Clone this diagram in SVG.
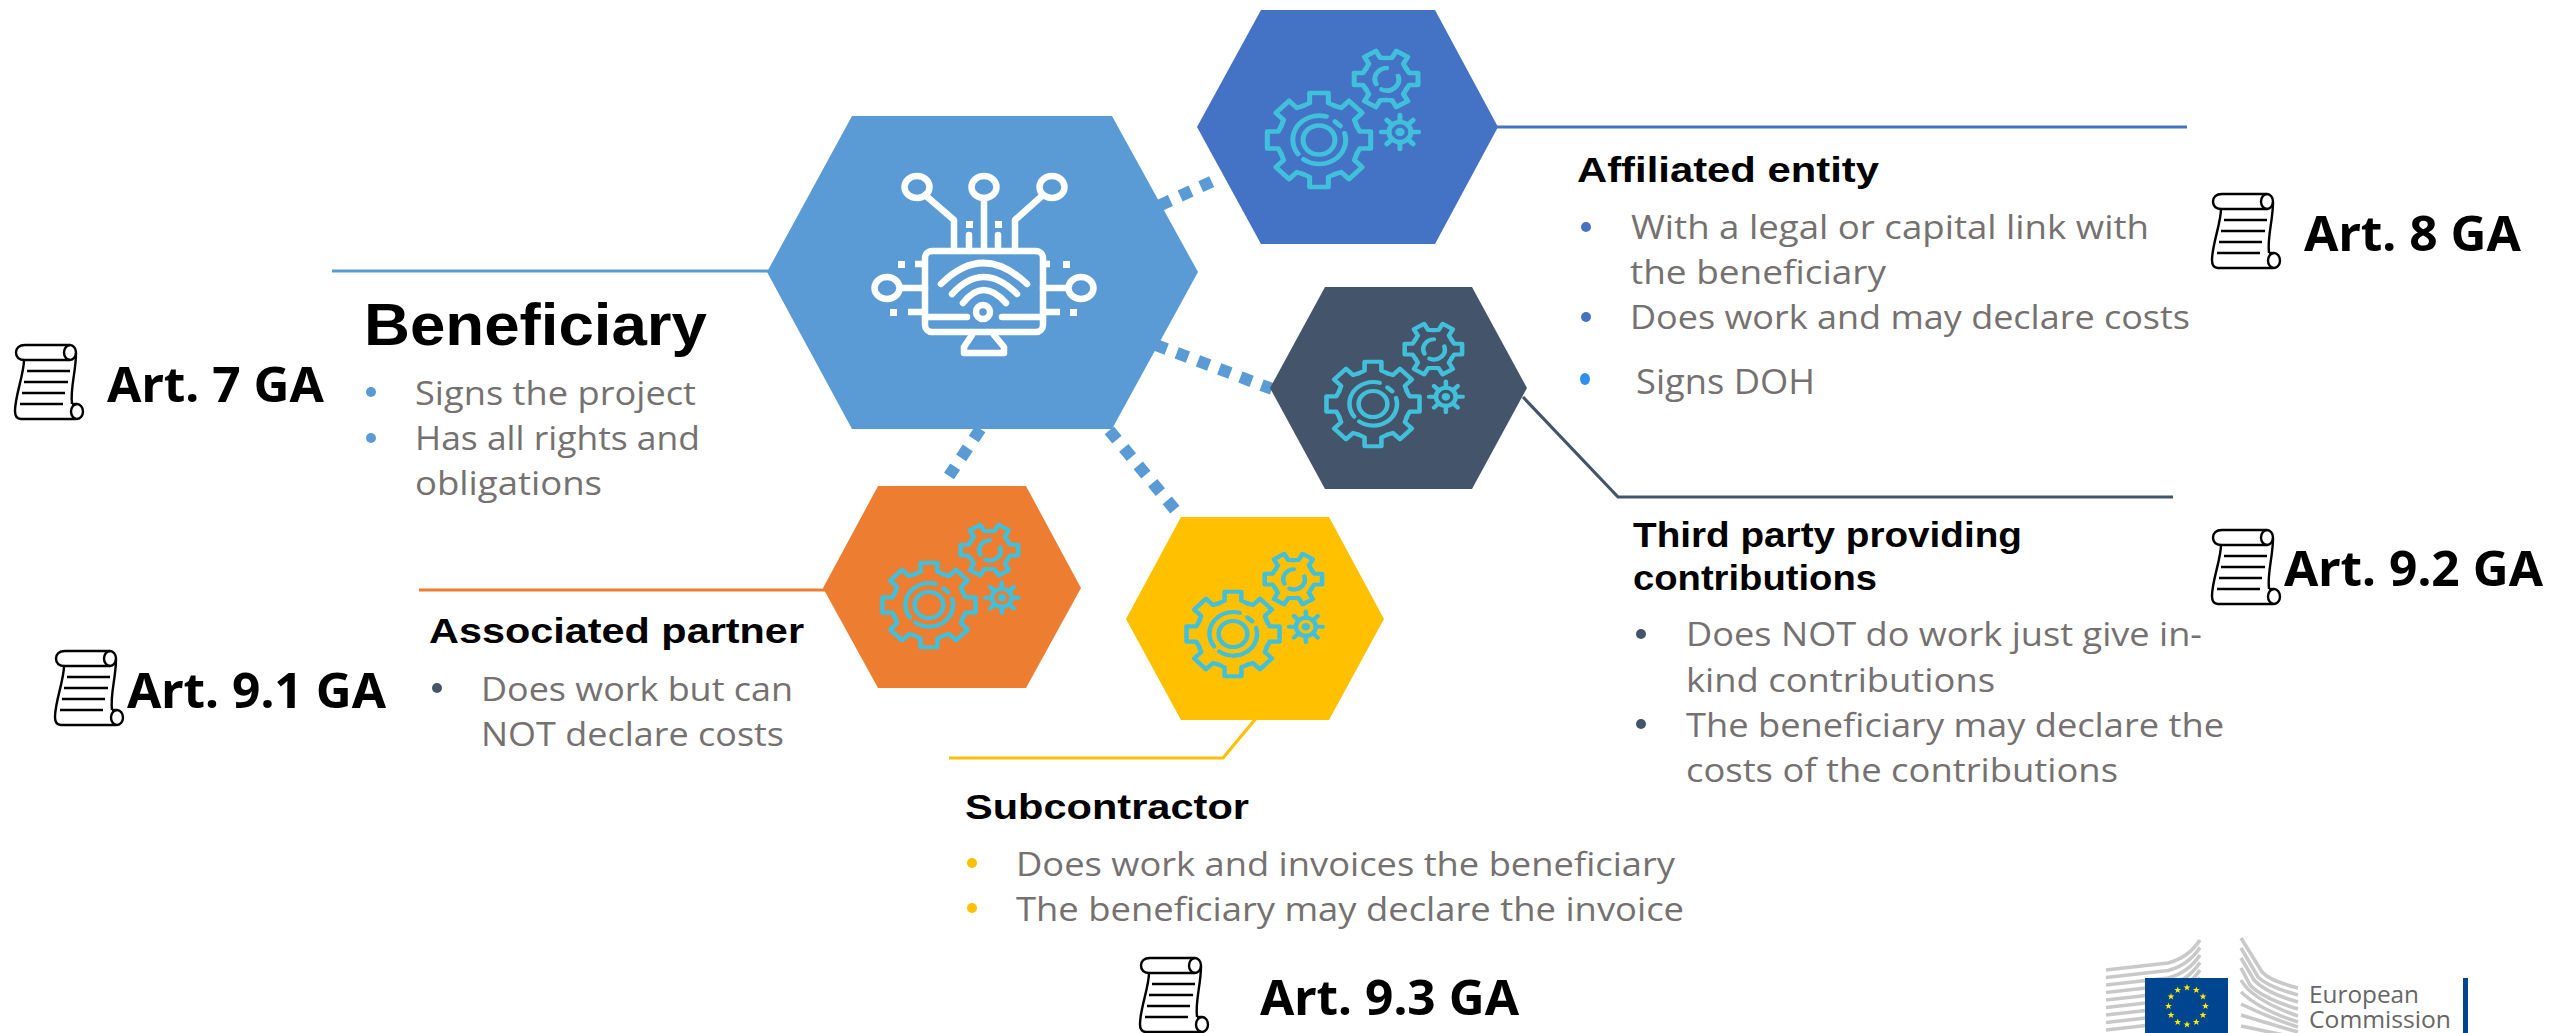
<svg xmlns="http://www.w3.org/2000/svg" xmlns:xlink="http://www.w3.org/1999/xlink" width="2552" height="1033" viewBox="0 0 2552 1033">
<style>
.body{font-family:"Open Sans","Liberation Sans",sans-serif;font-size:33px;fill:#767171}
.head{font-family:"Liberation Sans",Arial,sans-serif;font-weight:700;font-size:35px;fill:#000}
.art{font-family:"Noto Sans","Open Sans",sans-serif;font-weight:700;font-size:48px;fill:#000}
.logo{font-family:"Open Sans","Noto Sans",sans-serif;font-size:24px;fill:#666}
.dots{fill:none;stroke:#5b9bd5;stroke-width:12;stroke-dasharray:12 10.7}
.line{fill:none;stroke-width:3.2}
.gear{fill:none;stroke:#41c0dc;stroke-width:4.6;stroke-linecap:round;stroke-linejoin:round}
.ico{fill:none;stroke:#fff;stroke-width:6.500;stroke-linecap:round;stroke-linejoin:round}
.sq{fill:#fff}
.scr{fill:none;stroke:#000;stroke-width:2.4;stroke-linejoin:round}
.bld{fill:none;stroke:#c9c9c9;stroke-width:3.6}
</style>
<defs>
<symbol id="gears" overflow="visible" viewBox="-60 -100 180 160" width="180" height="160">
<g class="gear">
<path id="bt" d="M-14.2-34.2L-8.5-37V-47H8.5V-37L14.2-34.2"/>
<use xlink:href="#bt" href="#bt" transform="rotate(45)"/>
<use xlink:href="#bt" href="#bt" transform="rotate(90)"/>
<use xlink:href="#bt" href="#bt" transform="rotate(135)"/>
<use xlink:href="#bt" href="#bt" transform="rotate(180)"/>
<use xlink:href="#bt" href="#bt" transform="rotate(225)"/>
<use xlink:href="#bt" href="#bt" transform="rotate(270)"/>
<use xlink:href="#bt" href="#bt" transform="rotate(315)"/>
<circle r="14.5"/>
<path d="M6.7-23.5A24 24 0 0 0-19 14M23.3-6.7A24 24 0 0 1-14 19.3M14.5-18.5L19.5-14"/>
<g transform="translate(61 -61)">
<path id="st" d="M-10.5-18.2L-6-21V-29H6V-21L10.5-18.2" transform="rotate(30)"/>
<use xlink:href="#st" href="#st" transform="rotate(60)"/>
<use xlink:href="#st" href="#st" transform="rotate(120)"/>
<use xlink:href="#st" href="#st" transform="rotate(180)"/>
<use xlink:href="#st" href="#st" transform="rotate(240)"/>
<use xlink:href="#st" href="#st" transform="rotate(300)"/>
<path d="M0.5-11A11 11 0 0 0-9 5M11-3A11 11 0 0 1-4 10.5"/>
</g>
<g transform="translate(73.6 -8)">
<circle r="10"/><circle r="2" fill="#41c0dc"/>
<path d="M0-10V-17M7-7L12-12M10 0H17M7 7L12 12M0 10V17M-7 7L-12 12M-10 0H-17M-7-7L-12-12"/>
</g>
</g>
</symbol>
<symbol id="scroll" overflow="visible" viewBox="0 0 70 76" width="70" height="76">
<g class="scr">
<path d="M56 1H11C5 1 2 4 2 8.500S5 16 11 16H56"/>
<ellipse cx="56" cy="8.500" rx="6" ry="7.500"/>
<path d="M10 16C10 30 1 52 1 67C1 72 3 75 7 75H62"/>
<path d="M62 9C62 28 56 44 58 60"/>
<ellipse cx="63" cy="67.500" rx="6" ry="7.500"/>
<path d="M58 60H63"/>
<path d="M13 27H56M10 38H54M8 49H51M6 60H49" stroke-width="2.6"/>
</g>
</symbol>
<polygon id="star" points="0,-3.600 0.900,-1.100 3.500,-1.100 1.400,0.400 2.200,2.900 0,1.400 -2.200,2.900 -1.400,0.400 -3.500,-1.100 -0.900,-1.100" fill="#ffed00"/>
</defs>
<rect width="2552" height="1033" fill="#fff"/>

<g id="connectors">
<path class="line" stroke="#5b9bd5" d="M332 271H770"/>
<path class="line" stroke="#4472c4" d="M1496 127H2187"/>
<path class="line" stroke="#44546a" d="M1523 397L1618 497H2173"/>
<path class="line" stroke="#ed7d31" d="M419 590H825"/>
<path class="line" stroke="#ffc000" d="M1255.500 719L1223 758H949"/>
<path class="dots" d="M1159.500 205.500L1213 181"/>
<path class="dots" d="M1155.500 344.800L1272 389"/>
<path class="dots" d="M980.400 429L949 476"/>
<path class="dots" d="M1109.300 430.400L1176 511"/>
</g>

<g id="node-beneficiary">
<polygon fill="#5b9bd5" points="767,272 852,116 1112,116 1198,272 1112,429 852,429"/>
<g class="ico">
<rect x="925" y="251" width="118" height="81" rx="7"/>
<path d="M925 317H967M1002 317H1043"/>
<circle cx="983" cy="312" r="7"/>
<path d="M941 284Q983 242 1027 284M952 294Q983 260 1017 294M963 303Q983 277 1006 303"/>
<path d="M972 335L964 347V353H1004V347L994 335"/>
<ellipse cx="917" cy="187" rx="12.500" ry="11"/><ellipse cx="984" cy="187" rx="12.500" ry="11"/><ellipse cx="1052" cy="187" rx="12.500" ry="11"/>
<path d="M925 195L954 220V251M984 199V251M1043 195L1015 220V251M969 235V251M998 235V251"/>
<ellipse cx="887" cy="288" rx="12.500" ry="11"/><ellipse cx="1081" cy="288" rx="12.500" ry="11"/>
<path d="M900 288H925M1043 288H1068"/>
<path d="M915 264H925M1043 264H1050M908 312H925M1043 312H1060" stroke-linecap="butt"/>
</g>
<g class="sq">
<rect x="966" y="221" width="7" height="7"/><rect x="995" y="221" width="7" height="7"/>
<rect x="898" y="261" width="7" height="7"/><rect x="1063" y="261" width="7" height="7"/>
<rect x="890" y="309" width="7" height="7"/><rect x="1070" y="309" width="7" height="7"/>
</g>
<text class="head" x="364" y="345" style="font-size:59px" textLength="343" lengthAdjust="spacingAndGlyphs">Beneficiary</text>
<circle cx="371" cy="392" r="5" fill="#5b9bd5"/><circle cx="371" cy="438" r="5" fill="#5b9bd5"/>
<text class="body" x="415" y="405" textLength="281" lengthAdjust="spacingAndGlyphs">Signs the project</text>
<text class="body" x="415" y="450" textLength="285" lengthAdjust="spacingAndGlyphs">Has all rights and</text>
<text class="body" x="415" y="495" textLength="187" lengthAdjust="spacingAndGlyphs">obligations</text>
<use href="#scroll" xlink:href="#scroll" x="14" y="344"/>
<text class="art" x="107" y="402" textLength="217" lengthAdjust="spacingAndGlyphs">Art. 7 GA</text>
</g>

<g id="node-affiliated">
<polygon fill="#4472c4" points="1197,127 1261,10 1435,10 1498,127 1435,244 1261,244"/>
<use href="#gears" xlink:href="#gears" transform="translate(1319 140) scale(1.1 1) translate(-60 -100)"/>
<text class="head" x="1577" y="182" textLength="302" lengthAdjust="spacingAndGlyphs">Affiliated entity</text>
<circle cx="1586" cy="227" r="5" fill="#4472c4"/><circle cx="1586" cy="317" r="5" fill="#4472c4"/>
<ellipse cx="1585" cy="379" rx="5" ry="6" fill="#2e8fef"/>
<text class="body" x="1631" y="239" textLength="518" lengthAdjust="spacingAndGlyphs">With a legal or capital link with</text>
<text class="body" x="1630" y="284" textLength="256" lengthAdjust="spacingAndGlyphs">the beneficiary</text>
<text class="body" x="1630" y="329" textLength="560" lengthAdjust="spacingAndGlyphs">Does work and may declare costs</text>
<text class="body" x="1636" y="394" style="font-size:35px" textLength="179" lengthAdjust="spacingAndGlyphs">Signs DOH</text>
<use href="#scroll" xlink:href="#scroll" x="2211" y="193"/>
<text class="art" x="2304" y="251" textLength="217" lengthAdjust="spacingAndGlyphs">Art. 8 GA</text>
</g>

<g id="node-third-party">
<polygon fill="#44546a" points="1270,388 1325,287 1472,287 1527,388 1472,489 1325,489"/>
<use href="#gears" xlink:href="#gears" transform="translate(1373 404) scale(.99 .9) translate(-60 -100)"/>
<text class="head" x="1633" y="547" textLength="389" lengthAdjust="spacingAndGlyphs">Third party providing</text>
<text class="head" x="1633" y="590" textLength="244" lengthAdjust="spacingAndGlyphs">contributions</text>
<circle cx="1641" cy="634" r="5" fill="#44546a"/><circle cx="1641" cy="724" r="5" fill="#44546a"/>
<text class="body" x="1686" y="646" textLength="516" lengthAdjust="spacingAndGlyphs">Does NOT do work just give in-</text>
<text class="body" x="1686" y="692" textLength="309" lengthAdjust="spacingAndGlyphs">kind contributions</text>
<text class="body" x="1686" y="737" textLength="538" lengthAdjust="spacingAndGlyphs">The beneficiary may declare the</text>
<text class="body" x="1686" y="782" textLength="432" lengthAdjust="spacingAndGlyphs">costs of the contributions</text>
<use href="#scroll" xlink:href="#scroll" x="2211" y="529"/>
<text class="art" x="2284" y="586" textLength="259" lengthAdjust="spacingAndGlyphs">Art. 9.2 GA</text>
</g>

<g id="node-associated">
<polygon fill="#ed7d31" points="823,588 878,486 1026,486 1081,588 1026,688 878,688"/>
<use href="#gears" xlink:href="#gears" transform="translate(929 605) scale(.99 .9) translate(-60 -100)"/>
<text class="head" x="429" y="643" textLength="375" lengthAdjust="spacingAndGlyphs">Associated partner</text>
<circle cx="437" cy="688" r="5" fill="#44546a"/>
<text class="body" x="481" y="701" textLength="312" lengthAdjust="spacingAndGlyphs">Does work but can</text>
<text class="body" x="481" y="746" textLength="303" lengthAdjust="spacingAndGlyphs">NOT declare costs</text>
<use href="#scroll" xlink:href="#scroll" x="54" y="650"/>
<text class="art" x="127" y="708" textLength="259" lengthAdjust="spacingAndGlyphs">Art. 9.1 GA</text>
</g>

<g id="node-subcontractor">
<polygon fill="#ffc000" points="1126,619 1181,517 1329,517 1384,619 1329,720 1181,720"/>
<use href="#gears" xlink:href="#gears" transform="translate(1233 634) scale(.99 .9) translate(-60 -100)"/>
<text class="head" x="965" y="819" textLength="284" lengthAdjust="spacingAndGlyphs">Subcontractor</text>
<circle cx="972" cy="863" r="5" fill="#ffc000"/><circle cx="972" cy="908" r="5" fill="#ffc000"/>
<text class="body" x="1016" y="876" textLength="659" lengthAdjust="spacingAndGlyphs">Does work and invoices the beneficiary</text>
<text class="body" x="1016" y="921" textLength="668" lengthAdjust="spacingAndGlyphs">The beneficiary may declare the invoice</text>
<use href="#scroll" xlink:href="#scroll" x="1139" y="957"/>
<text class="art" x="1260" y="1015" textLength="259" lengthAdjust="spacingAndGlyphs">Art. 9.3 GA</text>
</g>

<g id="logo-european-commission">
<g class="bld">
<path id="lb" d="M2106 970L2168 963Q2188 958 2200 940"/>
<use href="#lb" xlink:href="#lb" y="7.500"/><use href="#lb" xlink:href="#lb" y="15"/><use href="#lb" xlink:href="#lb" y="22.500"/><use href="#lb" xlink:href="#lb" y="30"/><use href="#lb" xlink:href="#lb" y="37.500"/><use href="#lb" xlink:href="#lb" y="45"/><use href="#lb" xlink:href="#lb" y="52.500"/><use href="#lb" xlink:href="#lb" y="60"/>
<path d="M2241 938L2262 972Q2270 981 2298 988M2241 948L2258 977Q2268 987 2298 995M2241 958L2254 980Q2266 993 2298 1002M2241 968L2250 985Q2262 998 2298 1009M2241 980Q2252 1000 2298 1016M2241 992Q2260 1010 2298 1022M2241 1004Q2270 1018 2298 1027M2241 1015Q2270 1024 2298 1032M2241 1026L2298 1038"/>
</g>
<rect x="2145" y="978" width="83" height="55" fill="#00458f"/>
<g>
<use href="#star" xlink:href="#star" x="2187" y="987.500"/><use href="#star" xlink:href="#star" x="2196.300" y="990"/><use href="#star" xlink:href="#star" x="2203" y="996.500"/><use href="#star" xlink:href="#star" x="2205.500" y="1006"/><use href="#star" xlink:href="#star" x="2203" y="1015"/><use href="#star" xlink:href="#star" x="2196.300" y="1022"/><use href="#star" xlink:href="#star" x="2187" y="1024.500"/><use href="#star" xlink:href="#star" x="2177.700" y="1022"/><use href="#star" xlink:href="#star" x="2171" y="1015"/><use href="#star" xlink:href="#star" x="2168.500" y="1006"/><use href="#star" xlink:href="#star" x="2171" y="996.500"/><use href="#star" xlink:href="#star" x="2177.700" y="990"/>
</g>
<text class="logo" x="2309" y="1003" textLength="110" lengthAdjust="spacingAndGlyphs">European</text>
<text class="logo" x="2309" y="1028" textLength="142" lengthAdjust="spacingAndGlyphs">Commission</text>
<rect x="2463" y="978" width="5" height="55" fill="#00458f"/>
</g>
</svg>
